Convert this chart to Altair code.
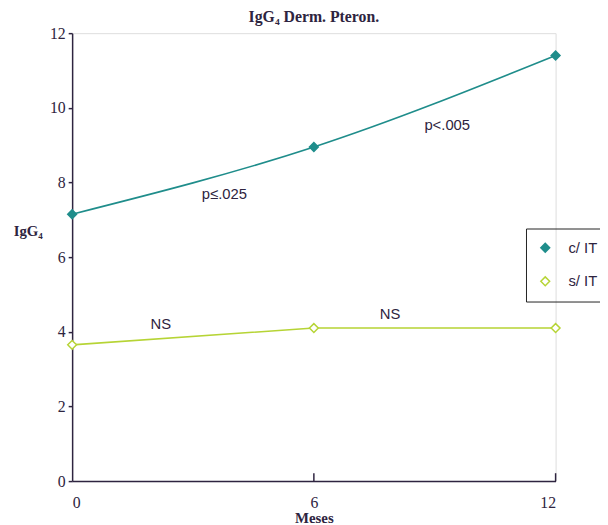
import altair as alt
import pandas as pd

months = [0, 6, 12]
c_it = [7.15, 8.95, 11.4]
s_it = [3.65, 4.1, 4.1]
series_names = ["c/ IT", "s/ IT"]

ann_text = ["p≤.025", "p<.005", "NS", "NS"]
ann_x = [3.78, 9.31, 2.2, 7.89]
ann_y = [7.69, 9.54, 4.2, 4.47]

x_ticks = [6, 12]

teal = "#1f8d8b"
green = "#b6d435"
ink = "#2e2440"

df = pd.DataFrame({
    "Meses": months * 2,
    "IgG4": c_it + s_it,
    "series": [series_names[0]] * 3 + [series_names[1]] * 3,
})
ann = pd.DataFrame({"x": ann_x, "y": ann_y, "t": ann_text})
ticks = pd.DataFrame({"x": x_ticks})

xs = alt.Scale(domain=[0, 12], nice=False, zero=False)
ys = alt.Scale(domain=[0, 12], nice=False)

base = alt.Chart(df)

line_c = base.transform_filter(alt.datum.series == series_names[0]).mark_line(
    color=teal, strokeWidth=1.6, interpolate="monotone"
).encode(
    x=alt.X("Meses:Q", scale=xs),
    y=alt.Y("IgG4:Q", scale=ys),
)
line_s = base.transform_filter(alt.datum.series == series_names[1]).mark_line(
    color=green, strokeWidth=1.6
).encode(
    x=alt.X("Meses:Q", scale=xs),
    y=alt.Y("IgG4:Q", scale=ys),
)

legend = alt.Legend(
    title=None, orient="none", legendX=460, legendY=198,
    strokeColor="#222", padding=12, labelFont="Liberation Sans",
    labelFontSize=15, labelColor=ink, rowPadding=18, symbolSize=80,
    symbolStrokeWidth=1.5, labelOffset=16,
)

points = base.mark_point(size=80, strokeWidth=1.5, opacity=1).encode(
    x=alt.X("Meses:Q", scale=xs,
            axis=alt.Axis(values=[0, 6, 12], title="Meses", ticks=False,
                          labelFont="Liberation Serif", labelFontSize=16,
                          labelColor=ink, labelPadding=14,
                          titleFont="Liberation Serif", titleFontSize=15,
                          titleFontWeight="bold", titleColor=ink,
                          titlePadding=0, domainColor=ink, domainWidth=1.5,
                          grid=False)),
    y=alt.Y("IgG4:Q", scale=ys,
            axis=alt.Axis(values=[0, 2, 4, 6, 8, 10, 12], title="IgG₄",
                          titleAngle=0, titleX=-45, titleY=200,
                          titleAlign="center", titleBaseline="middle",
                          titleFont="Liberation Serif", titleFontSize=15,
                          titleFontWeight="bold", titleColor=ink,
                          labelFont="Liberation Serif", labelFontSize=16,
                          labelColor=ink, tickSize=4, tickColor=ink,
                          tickWidth=1.5, labelPadding=3,
                          domainColor=ink, domainWidth=1.5, grid=False)),
    color=alt.Color("series:N", scale=alt.Scale(domain=series_names, range=[teal, green]), legend=legend),
    fill=alt.Fill("series:N", scale=alt.Scale(domain=series_names, range=[teal, "white"]), legend=legend),
    shape=alt.Shape("series:N", scale=alt.Scale(domain=series_names, range=["diamond", "diamond"]), legend=legend),
)

texts = alt.Chart(ann).mark_text(
    font="Liberation Sans", fontSize=15, color=ink
).encode(
    x=alt.X("x:Q", scale=xs),
    y=alt.Y("y:Q", scale=ys),
    text="t:N",
)

xt = alt.Chart(ticks).mark_rule(color=ink, strokeWidth=1.5).encode(
    x=alt.X("x:Q", scale=xs),
    y=alt.value(454),
    y2=alt.value(446),
)

chart = alt.layer(line_c, line_s, xt, texts, points).properties(
    width=490, height=454,
    title=alt.TitleParams("IgG₄ Derm. Pteron.", font="Liberation Serif",
                          fontSize=16, fontWeight="bold", color=ink,
                          anchor="middle", frame="group", offset=0,
                          baseline="alphabetic", dy=13),
    autosize=alt.AutoSizeParams(type="none"),
    padding={"left": 65, "top": 22, "right": 45, "bottom": 41},
).configure_view(stroke=None).configure(background="white")

chart.save("out.html", embed_options={"renderer": "svg", "actions": False})
